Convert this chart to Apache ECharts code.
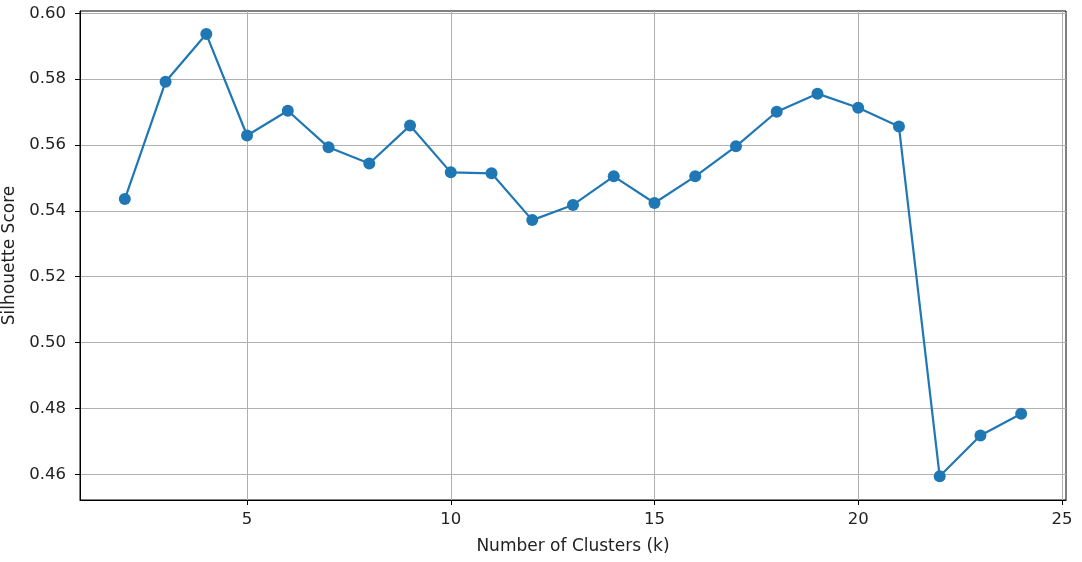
<!DOCTYPE html>
<html><head><meta charset="utf-8">
<script src="https://cdn.jsdelivr.net/npm/echarts@6/dist/echarts.min.js"></script>
<style>html,body{margin:0;padding:0;background:#fff}#c{width:1082px;height:562px}</style>
</head><body><div id="c"></div>
<script>
const ks = [2,3,4,5,6,7,8,9,10,11,12,13,14,15,16,17,18,19,20,21,22,23,24];
const scores = [0.5436,0.5792,0.5937,0.5629,0.5704,0.5593,0.5544,0.5659,0.5517,0.5514,0.5372,0.5418,0.5505,0.5424,0.5505,0.5596,0.5701,0.5756,0.5713,0.5656,0.4594,0.4718,0.4784];
const xTicks = [5,10,15,20,25];
const yTicks = [0.46,0.48,0.50,0.52,0.54,0.56,0.58,0.60];
const xLabel = 'Number of Clusters (k)';
const yLabel = 'Silhouette Score';

const font = 'DejaVu Sans';
const chart = echarts.init(document.getElementById('c'), null, {renderer:'canvas'});
chart.setOption({
  animation:false,
  grid:{left:80,right:16,top:11,bottom:62,outerBoundsMode:'none',containLabel:false,show:true,borderColor:'#000',borderWidth:1,backgroundColor:'transparent'},
  xAxis:{type:'value',min:0.9,max:25.1,
    name:xLabel,nameLocation:'middle',nameGap:38,nameTextStyle:{fontFamily:font,fontSize:17,color:'#222'},
    axisLine:{show:true,onZero:false,lineStyle:{color:'#000',width:1}},
    axisTick:{show:true,length:5,lineStyle:{color:'#000'},customValues:xTicks},
    axisLabel:{customValues:xTicks,fontFamily:font,fontSize:16.5,color:'#222',margin:11},
    splitLine:{show:true,lineStyle:{color:'#b0b0b0',width:1}}
  },
  yAxis:{type:'value',min:0.4522,max:0.6007,
    name:yLabel,nameLocation:'middle',nameGap:60,nameTextStyle:{fontFamily:font,fontSize:17,color:'#222'},
    axisLine:{show:true,onZero:false,lineStyle:{color:'#000',width:1}},
    axisTick:{show:true,length:5,lineStyle:{color:'#000'},customValues:yTicks},
    axisLabel:{customValues:yTicks,fontFamily:font,fontSize:16.5,color:'#222',margin:14,formatter:v=>v.toFixed(2)},
    splitLine:{show:true,lineStyle:{color:'#b0b0b0',width:1}}
  },
  series:[{type:'line',data:ks.map((k,i)=>[k,scores[i]]),
    symbol:'circle',symbolSize:12,showAllSymbol:true,
    lineStyle:{color:'#1f77b4',width:2.2},itemStyle:{color:'#1f77b4'}}]
});
</script></body></html>
